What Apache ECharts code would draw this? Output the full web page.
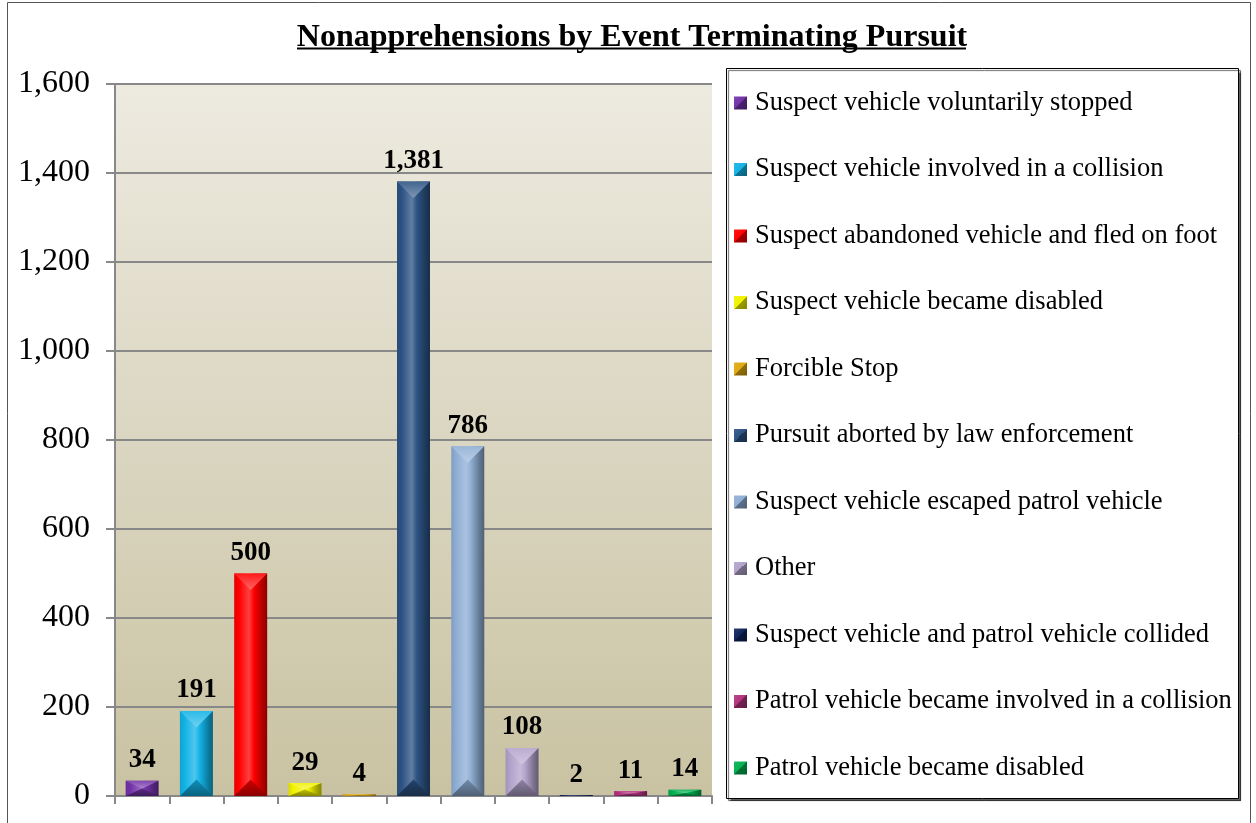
<!DOCTYPE html>
<html><head><meta charset="utf-8">
<script src="https://cdn.jsdelivr.net/npm/echarts@6/dist/echarts.min.js"></script>
<style>html,body{margin:0;padding:0;background:#fff}#c{width:1256px;height:823px}</style>
</head><body><div id="c"></div>
<script>
const categories = [
  'Suspect vehicle voluntarily stopped',
  'Suspect vehicle involved in a collision',
  'Suspect abandoned vehicle and fled on foot',
  'Suspect vehicle became disabled',
  'Forcible Stop',
  'Pursuit aborted by law enforcement',
  'Suspect vehicle escaped patrol vehicle',
  'Other',
  'Suspect vehicle and patrol vehicle collided',
  'Patrol vehicle became involved in a collision',
  'Patrol vehicle became disabled'
];
const values = [34, 191, 500, 29, 4, 1381, 786, 108, 2, 11, 14];
const yTicks = [0, 200, 400, 600, 800, 1000, 1200, 1400, 1600];
const titleText = 'Nonapprehensions by Event Terminating Pursuit';

const colors = ['#7232A8','#13B3E6','#FF0000','#F2F200','#E0A810','#2D5384','#8FAED4','#B3A3CC','#10255A','#B2327E','#00B050'];
const FONT = '"Liberation Serif", "Times New Roman", serif';
const BAR_W = 33;

function shade(hex, f) {
  const n = parseInt(hex.slice(1), 16);
  let r = (n >> 16) & 255, g = (n >> 8) & 255, b = n & 255;
  if (f < 0) { r = r * (1 + f); g = g * (1 + f); b = b * (1 + f); }
  else { r = r + (255 - r) * f; g = g + (255 - g) * f; b = b + (255 - b) * f; }
  return 'rgb(' + Math.round(r) + ',' + Math.round(g) + ',' + Math.round(b) + ')';
}
function bevel(c) {
  return new echarts.graphic.LinearGradient(0, 0, 1, 0, [
    {offset: 0, color: shade(c, -0.1)},
    {offset: 0.15, color: c},
    {offset: 0.45, color: shade(c, 0.25)},
    {offset: 0.6, color: c},
    {offset: 0.85, color: shade(c, -0.3)},
    {offset: 1, color: shade(c, -0.45)}
  ]);
}
function iconGrad(c) {
  return new echarts.graphic.LinearGradient(0, 0, 1, 1, [
    {offset: 0, color: shade(c, 0.1)},
    {offset: 0.5, color: c},
    {offset: 0.5, color: shade(c, -0.35)},
    {offset: 1, color: shade(c, -0.45)}
  ]);
}

const chart = echarts.init(document.getElementById('c'), null, {renderer: 'canvas'});
const series = categories.map((name, i) => ({
  name: name,
  type: 'bar',
  stack: 'all',
  barWidth: BAR_W,
  data: values.map((v, j) => j === i ? v : '-'),
  itemStyle: {color: bevel(colors[i])},
  label: {
    show: true, position: 'top', distance: 7,
    fontFamily: FONT, fontWeight: 'bold', fontSize: 27, color: '#000',
    formatter: p => p.value.toLocaleString('en-US')
  },
  emphasis: {disabled: true}
}));

// bevel facets (top light chevron, bottom dark chevron) drawn from the same data
series.push({
  type: 'custom', name: '_bevel', silent: true, z: 3,
  data: values.map((v, i) => [i, v]),
  renderItem: function (params, api) {
    const i = api.value(0);
    const top = api.coord([i, api.value(1)]);
    const base = api.coord([i, 0]);
    const x0 = top[0] - BAR_W / 2, x1 = top[0] + BAR_W / 2;
    const h = base[1] - top[1];
    const d = Math.min(BAR_W / 2, h / 2);
    const c = colors[i];
    return {
      type: 'group',
      children: [
        {type: 'polygon', shape: {points: [[x0, top[1]], [x1, top[1]], [top[0], top[1] + d]]},
         style: {fill: new echarts.graphic.LinearGradient(0, 0, 0, 1, [
           {offset: 0, color: shade(c, 0.1)}, {offset: 1, color: shade(c, 0.4)}])}},
        {type: 'polygon', shape: {points: [[x0, base[1]], [x1, base[1]], [top[0], base[1] - d]]},
         style: {fill: new echarts.graphic.LinearGradient(0, 0, 0, 1, [
           {offset: 0, color: shade(c, -0.2)}, {offset: 1, color: shade(c, -0.45)}])}}
      ]
    };
  }
});

chart.setOption({
  animation: false,
  backgroundColor: '#fff',
  title: {
    text: titleText, left: 627, top: 17, textAlign: 'center',
    textStyle: {fontFamily: FONT, fontWeight: 'bold', fontSize: 32, color: '#000'}
  },
  graphic: [
    {type: 'rect', shape: {x: 7.5, y: 2.5, width: 1243, height: 830}, style: {fill: 'none', stroke: '#555', lineWidth: 1}, silent: true},
    {type: 'rect', shape: {x: 726.5, y: 68.5, width: 512, height: 730}, style: {fill: '#fff', stroke: '#000', lineWidth: 1, shadowColor: 'rgba(0,0,0,0.6)', shadowOffsetX: 2, shadowOffsetY: 2, shadowBlur: 1}, silent: true, z: -1},
    {type: 'line', shape: {x1: 297, y1: 48.5, x2: 966, y2: 48.5}, style: {stroke: '#000', lineWidth: 2}, silent: true}
  ],
  legend: {
    orient: 'vertical', left: 734, top: 88, padding: 0,
    itemWidth: 13, itemHeight: 13, itemGap: 36.5,
    icon: 'rect',
    data: categories.map((c, i) => ({name: c, itemStyle: {color: iconGrad(colors[i])}})),
    textStyle: {fontFamily: FONT, fontSize: 26.5, lineHeight: 30, color: '#000', padding: [0, 0, 0, 3]},
    selectedMode: false
  },
  grid: {
    left: 115, right: 544, top: 84, bottom: 27,
    show: true, borderWidth: 0,
    backgroundColor: new echarts.graphic.LinearGradient(0, 0, 0, 1, [
      {offset: 0, color: '#EDEAE0'}, {offset: 1, color: '#C9C2A2'}
    ])
  },
  xAxis: {
    type: 'category', data: categories,
    axisLine: {lineStyle: {color: '#888', width: 2}},
    axisTick: {show: true, interval: 0, length: 8, lineStyle: {color: '#888', width: 2}},
    axisLabel: {show: false, interval: 0}
  },
  yAxis: {
    type: 'value', min: yTicks[0], max: yTicks[yTicks.length - 1], interval: yTicks[1] - yTicks[0],
    axisLine: {show: true, lineStyle: {color: '#888', width: 2}},
    axisTick: {show: true, length: 9, lineStyle: {color: '#888', width: 2}},
    splitLine: {lineStyle: {color: '#888', width: 2}},
    axisLabel: {
      margin: 25, fontFamily: FONT, fontSize: 32, color: '#000',
      formatter: v => v.toLocaleString('en-US')
    }
  },
  series: series
});
</script></body></html>
